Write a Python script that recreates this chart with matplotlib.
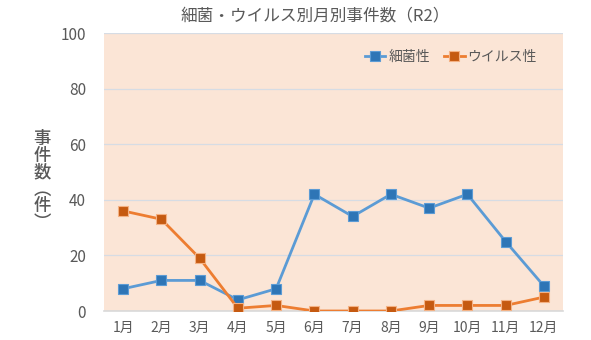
import matplotlib
matplotlib.use("Agg")
import matplotlib.pyplot as plt
import numpy as np

plt.rcParams['font.family'] = ['Noto Sans CJK JP', 'DejaVu Sans']

# data
months = ['1月', '2月', '3月', '4月', '5月', '6月', '7月', '8月', '9月', '10月', '11月', '12月']
bacteria = [8, 11, 11, 4, 8, 42, 34, 42, 37, 42, 25, 9]
virus = [36, 33, 19, 1, 2, 0, 0, 0, 2, 2, 2, 5]
yticks = [0, 20, 40, 60, 80, 100]

text_color = '#595959'

fig = plt.figure(figsize=(5.91, 3.40), dpi=100)
ax = fig.add_axes([104 / 591, 1 - 311 / 340, (563 - 104) / 591, (311 - 33) / 340])
ax.set_facecolor('#FBE5D6')

x = np.arange(len(months))
ax.plot(x, bacteria, color='#5B9BD5', lw=2, marker='s', markersize=6.5,
        markerfacecolor='#2E75B6', markeredgecolor='#5B9BD5', markeredgewidth=0.8,
        label='細菌性', zorder=3)
ax.plot(x, virus, color='#ED7D31', lw=2, marker='s', markersize=6.5,
        markerfacecolor='#C55A11', markeredgecolor='#F4B183', markeredgewidth=0.8,
        label='ウイルス性', zorder=3)

ax.set_xlim(-0.5, len(months) - 0.5)
ax.set_ylim(0, 100)
ax.set_yticks(yticks)
ax.set_xticks(x)
ax.set_xticklabels(months)
ax.tick_params(axis='both', length=0, colors=text_color)
ax.tick_params(axis='y', pad=13, labelsize=11)
ax.tick_params(axis='x', pad=7, labelsize=10)

ax.grid(axis='y', color='#D6DCE4', lw=0.9)
ax.set_axisbelow(True)
for side in ['top', 'right', 'left']:
    ax.spines[side].set_visible(False)
ax.spines['bottom'].set_color('#D9D9D9')
ax.spines['bottom'].set_linewidth(1.2)

# title and vertical y label
fig.text(315 / 591, 1 - 16 / 340, '細菌・ウイルス別月別事件数（R2）', ha='center', va='center',
         fontsize=12, color=text_color)
fig.text(42 / 591, 1 - 181 / 340, '事\n件\n数\n︵\n件\n︶', ha='center', va='center',
         fontsize=12.5, color=text_color, fontweight='medium', linespacing=0.92)

leg = ax.legend(loc='upper right', bbox_to_anchor=(0.97, 0.985), ncol=2, frameon=False,
                fontsize=10, handlelength=1.5, handletextpad=0.2, columnspacing=1.0)
for t in leg.get_texts():
    t.set_color(text_color)

fig.savefig('out.png', dpi=100)
